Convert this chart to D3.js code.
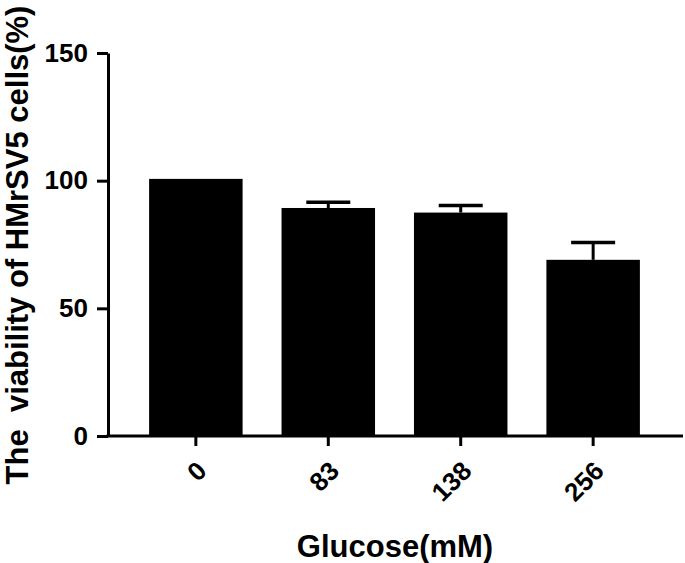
<!DOCTYPE html>
<html>
<head>
<meta charset="utf-8">
<script src="https://cdn.jsdelivr.net/npm/d3@7"></script>
<style>
html,body{margin:0;padding:0;background:#fff;}
svg{display:block;}
text{font-family:"Liberation Sans",Arial,sans-serif;font-weight:bold;fill:#000;}
</style>
</head>
<body>
<svg id="chart" width="685" height="563"></svg>
<script>
const categories = ["0", "83", "138", "256"];
const values = [100.7, 89.3, 87.5, 69.0];
const errors = [0, 2.2, 2.8, 6.8];
const yTicks = [0, 50, 100, 150];
const xTitle = "Glucose(mM)";
const yTitle = "The  viability of HMrSV5 cells(%)";

const data = categories.map((c, i) => ({cat: c, v: values[i], e: errors[i]}));

const svg = d3.select("#chart");
const axisX0 = 108, axisX1 = 683;
const y = d3.scaleLinear().domain([0, 150]).range([436, 53]);
const x = d3.scaleBand().domain(categories).range([116, 673]).paddingInner(0.294).paddingOuter(0.25);

// bars
svg.selectAll("rect.bar").data(data).enter().append("rect")
  .attr("class", "bar")
  .attr("x", d => x(d.cat))
  .attr("width", x.bandwidth())
  .attr("y", d => y(d.v))
  .attr("height", d => y(0) - y(d.v))
  .attr("fill", "#000");

// error bars
const eb = data.filter(d => d.e > 0);
svg.selectAll("line.stem").data(eb).enter().append("line")
  .attr("x1", d => x(d.cat) + x.bandwidth() / 2)
  .attr("x2", d => x(d.cat) + x.bandwidth() / 2)
  .attr("y1", d => y(d.v))
  .attr("y2", d => y(d.v + d.e))
  .attr("stroke", "#000").attr("stroke-width", 3);
svg.selectAll("line.cap").data(eb).enter().append("line")
  .attr("x1", d => x(d.cat) + x.bandwidth() / 2 - 22)
  .attr("x2", d => x(d.cat) + x.bandwidth() / 2 + 22)
  .attr("y1", d => y(d.v + d.e))
  .attr("y2", d => y(d.v + d.e))
  .attr("stroke", "#000").attr("stroke-width", 3.5);

// y axis
const yAxis = d3.axisLeft(y).tickValues(yTicks).tickSize(11).tickSizeOuter(0).tickPadding(9);
const gy = svg.append("g").attr("transform", `translate(${axisX0},0)`).call(yAxis);
gy.select(".domain").attr("stroke-width", 3).attr("stroke", "#000");
gy.selectAll(".tick line").attr("stroke-width", 3).attr("stroke", "#000");
gy.selectAll(".tick text").style("font-size", "26px").style("font-family", "'Liberation Sans',Arial,sans-serif").style("font-weight", "bold").attr("fill", "#000");

// x axis
const xAxis = d3.axisBottom(x).tickSize(10).tickSizeOuter(0);
const gx = svg.append("g").attr("transform", `translate(0,436)`).call(xAxis);
gx.select(".domain").attr("d", `M${axisX0 - 1.5},0H${axisX1}`).attr("stroke-width", 3).attr("stroke", "#000");
gx.selectAll(".tick line").attr("stroke-width", 3).attr("stroke", "#000");
gx.selectAll(".tick text")
  .style("font-size", "26px").style("font-family", "'Liberation Sans',Arial,sans-serif").style("font-weight", "bold").attr("fill", "#000")
  .attr("text-anchor", "end")
  .attr("y", 0).attr("dy", "0.35em")
  .attr("transform", "translate(6,30) rotate(-45)");

// titles
svg.append("text")
  .attr("x", 395).attr("y", 557)
  .attr("text-anchor", "middle")
  .style("font-size", "31px")
  .text(xTitle);

svg.append("text")
  .attr("transform", "translate(28,245) rotate(-90)")
  .attr("text-anchor", "middle")
  .style("font-size", "31px")
  .style("white-space", "pre")
  .text(yTitle);
</script>
</body>
</html>
